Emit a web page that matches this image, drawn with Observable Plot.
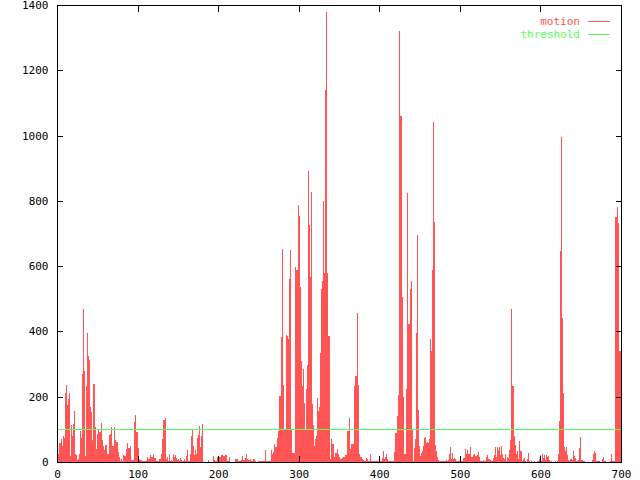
<!DOCTYPE html>
<html>
<head>
<meta charset="utf-8">
<script src="https://cdn.jsdelivr.net/npm/d3@7"></script>
<script src="https://cdn.jsdelivr.net/npm/@observablehq/plot@0.6"></script>
<style>
  html, body { margin: 0; padding: 0; background: white; }
</style>
</head>
<body>
<div id="chart"></div>
<script>
// motion value per frame (0..700)
const motion = [
26,26,58,58,58, 70,50,80,74,74, 210,236,174,174,192, 212,18,114,80,80, 116,156,24,20,20,
6,8,24,24,96, 74,270,470,278,278, 18,234,396,324,324, 314,168,152,68,68, 240,240,108,40,40,
86,98,92,92,94, 120,68,48,38,38, 52,52,24,24,46, 84,86,108,48,48, 44,108,68,62,62,
58,32,14,4,4, 8,2,20,18,18, 2,40,58,44,44, 6,48,6,6,6, 108,122,144,92,92,
44,12,8,6,6, 4,2,4,2,2, 4,2,16,8,8, 4,20,14,14,24, 4,12,12,4,4,
2,8,10,10,24, 70,67,130,130,136, 10,14,2,2,24, 2,6,0,2, 26,14,20,12,12,
6,8,4,4,12, 6,4,2,2,8, 4,18,36,2,2, 2,26,80,80,100, 50,20,36,26,26,
74,84,110,45,45, 80,116,0,0,0, 0,0,0,0,6, 0,0,0,0,18, 4,6,2,2,16,
2,4,16,14,14, 22,20,18,18,22, 22,20,4,4,16, 6,0,0,0,0, 0,0,8,8,10,
8,2,4,4,6, 10,18,6,6,12, 26,10,10,6,6, 2,8,4,4,10, 2,10,2,0,0,
0,2,4,2,2, 2,0,4,4,36, 2,4,4,2,2, 4,36,26,26,30, 55,32,47,47,74,
94,173,202,202,384, 653,235,98,98,100, 390,386,376,376,562, 650,97,70,29,29, 29,105,598,588,588,
786,754,535,308,308, 233,285,182,98,98, 223,296,892,725,725, 566,828,178,114, 112,49,70,70,80,
196,155,170,170,335, 531,556,800,578,578, 1139,1379,580,386,386, 235,8,71,54,54, 39,16,29,29,33,
39,26,16,10,10, 4,12,16,16,20, 20,22,96,96,114, 135,41,55,55,55, 75,233,263,263,457,
235,39,26,16,16, 8,2,6,2,2, 8,12,8,2,2, 4,26,4,2,2, 2,4,4,2,2,
4,2,2,2,4, 12,33,10,10,16, 24,4,8,4,4, 2,4,2,2,4, 31,37,90,90,141,
206,470,1319,1060,1060, 505,198,53,24,24, 223,480,823,423,423, 531,553,100,2,2, 43,70,396,396,696,
158,49,18,18,29, 33,49,73,73,78, 57,61,59,59,70, 376,341,588,588,1043, 735,53,33,14,14,
6,2,2,2,2, 4,2,4,2,2, 6,4,6,6,26, 45,8,29,8, 6,12,8,4,4,
4,2,2,2,4, 4,2,12,12,41, 31,26,37,24,24, 33,45,14,14,20, 26,24,18,18,20,
31,26,14,4,4, 4,2,6,2,2, 8,16,20,8,8, 6,4,4,4,12, 20,45,14,14,47,
37,45,20,20,49, 26,12,8,8,26, 4,16,12,12,37, 67,128,470,232,232, 80,51,24,24,33,
8,22,63,33,33, 4,8,12,4,4, 0,10,29,2,2, 0,2,0,0,0, 2,0,0,0,2,
2,8,20,4,4, 24,12,20,6,6, 22,14,18,6,6, 2,2,0,0,0, 0,2,0,0,2,
24,126,645,645,997, 440,212,47,35,35, 47,20,6,4,4, 10,8,6,6,33, 18,12,4,2,2,
6,43,78,6,6, 4,4,4,0,0, 0,0,0,0,0, 0,0,6,26, 2,33,29,2,2,
4,0,4,0,0, 0,10,14,2,2, 0,0,0,0,0, 4,26,4,2,2, 2,45,750,750,780,
731,263,339,339,345
];
const threshold = 100;
const xTicks = [0, 100, 200, 300, 400, 500, 600, 700];
const yTicks = [0, 200, 400, 600, 800, 1000, 1200, 1400];
const seriesNames = ["motion", "threshold"];
const seriesColors = ["#ff5555", "#55ff55"];

const FONT = "'DejaVu Sans Mono', 'Liberation Mono', monospace";
const plain = d => String(d);

const chart = Plot.plot({
  width: 640,
  height: 480,
  marginLeft: 57,
  marginRight: 19,
  marginTop: 5,
  marginBottom: 18,
  style: {fontFamily: FONT, fontSize: "11px", background: "white", color: "black"},
  x: {domain: [0, 700]},
  y: {domain: [0, 1400]},
  marks: [
    Plot.ruleX(motion, {x: (d, i) => i, y1: 0, y2: d => d, stroke: seriesColors[0], strokeWidth: 1, shapeRendering: "crispEdges"}),
    Plot.ruleY([threshold], {stroke: seriesColors[1], strokeWidth: 1, shapeRendering: "crispEdges"}),
    Plot.axisX({ticks: xTicks, tickFormat: plain, tickSize: -6, tickPadding: 14, label: null, stroke: "black", shapeRendering: "crispEdges"}),
    Plot.axisX({anchor: "top", ticks: xTicks, tickSize: -6, tickFormat: () => "", label: null, stroke: "black", shapeRendering: "crispEdges"}),
    Plot.axisY({ticks: yTicks, tickFormat: plain, tickSize: -6, tickPadding: 15, label: null, stroke: "black", shapeRendering: "crispEdges"}),
    Plot.axisY({anchor: "right", ticks: yTicks, tickSize: -6, tickFormat: () => "", label: null, stroke: "black", shapeRendering: "crispEdges"}),
    Plot.frame({stroke: "black", shapeRendering: "crispEdges"})
  ]
});

// legend in the top-right corner, as gnuplot draws it
const svg = d3.select(chart);
const leg = svg.append("g").attr("font-family", FONT).attr("font-size", 11);
seriesNames.forEach((name, k) => {
  const y = 21 + k * 13;
  leg.append("text")
    .attr("x", 580).attr("y", y)
    .attr("text-anchor", "end")
    .attr("dominant-baseline", "central")
    .attr("fill", seriesColors[k])
    .text(name);
  leg.append("line")
    .attr("x1", 588).attr("x2", 610)
    .attr("y1", y + 0.5).attr("y2", y + 0.5)
    .attr("stroke", seriesColors[k])
    .attr("shape-rendering", "crispEdges");
});

document.getElementById("chart").appendChild(chart);
</script>
</body>
</html>
